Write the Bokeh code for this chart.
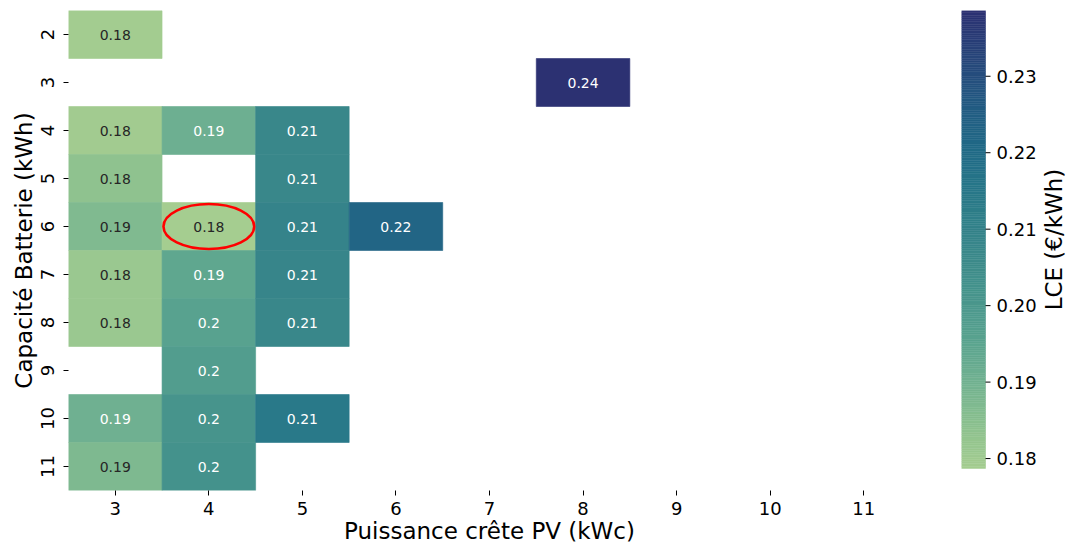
import math
import numpy as np
from bokeh.plotting import figure
from bokeh.models import ColumnDataSource, LinearColorMapper, FixedTicker, Range1d
from bokeh.layouts import row
from bokeh.embed import file_html
from bokeh.resources import INLINE
from bokeh.core.properties import value

# ---------------- data ----------------
pv_kwc = [3, 8, 3, 4, 5, 3, 5, 3, 4, 5, 6, 3, 4, 5, 3, 4, 5, 4, 3, 4, 5, 3, 4]
battery_kwh = [2, 3, 4, 4, 4, 5, 5, 6, 6, 6, 6, 7, 7, 7, 8, 8, 8, 9, 10, 10, 10, 11, 11]
lce = [0.1793, 0.2386, 0.1795, 0.1913, 0.2075, 0.1838, 0.2075, 0.1871, 0.1787, 0.2098,
       0.2225, 0.1811, 0.1943, 0.2085, 0.1812, 0.1961, 0.2075, 0.1979, 0.1907, 0.2018,
       0.2145, 0.1874, 0.2027]
x_ticks = [3, 4, 5, 6, 7, 8, 9, 10, 11]
y_ticks = [2, 3, 4, 5, 6, 7, 8, 9, 10, 11]
cbar_ticks = [0.18, 0.19, 0.20, 0.21, 0.22, 0.23]

FONT = "DejaVu Sans"

# --------------- colormap (crest-like) ---------------
anchor_t = [0.0, 0.1, 0.2, 0.27, 0.3, 0.4, 0.5, 0.6, 0.7, 0.8, 0.9, 1.0]
anchor_c = [(165, 205, 144), (138, 192, 143), (111, 176, 145), (92, 165, 143),
            (86, 160, 143), (68, 146, 140), (55, 133, 138), (41, 121, 137),
            (33, 106, 135), (35, 90, 130), (40, 70, 122), (44, 49, 114)]
N = 256
tt = np.linspace(0, 1, N)
rgb = np.array([[np.interp(t, anchor_t, [c[k] for c in anchor_c]) for k in range(3)] for t in tt])
palette = ["#%02x%02x%02x" % tuple(int(round(v)) for v in c) for c in rgb]

vmin, vmax = min(lce), max(lce)
mapper = LinearColorMapper(palette=palette, low=vmin, high=vmax)


def lum(c):
    lin = []
    for v in c:
        v = v / 255.0
        lin.append(v / 12.92 if v <= 0.03928 else ((v + 0.055) / 1.055) ** 2.4)
    return 0.2126 * lin[0] + 0.7152 * lin[1] + 0.0722 * lin[2]


text_colors = []
for v in lce:
    idx = min(int((v - vmin) / (vmax - vmin) * N), N - 1)
    text_colors.append("#262626" if lum(rgb[idx]) > 0.408 else "white")

labels = [format(v, ".2g") for v in lce]

src = ColumnDataSource(dict(x=pv_kwc, y=battery_kwh, v=lce, lab=labels, tc=text_colors))

TOP, BOTTOM = 10, 58
H = 548

# --------------- heatmap ---------------
p = figure(width=918, height=H, x_range=Range1d(2.5, 11.5), y_range=Range1d(11.5, 1.5),
           output_backend="svg", toolbar_location=None,
           min_border_left=68, min_border_top=TOP, min_border_right=8, min_border_bottom=BOTTOM)
p.outline_line_color = None
p.grid.grid_line_color = None
p.background_fill_color = "white"

p.rect(x="x", y="y", width=1, height=1, source=src,
       fill_color={"field": "v", "transform": mapper},
       line_color={"field": "v", "transform": mapper}, line_width=0.6)
p.text(x="x", y="y", text="lab", source=src, text_align="center", text_baseline="middle",
       text_font=value(FONT), text_font_size="14px", text_color="tc")

imin = lce.index(vmin)
p.ellipse(x=[pv_kwc[imin]], y=[battery_kwh[imin]], width=0.97, height=0.94,
          fill_color=None, line_color="red", line_width=2.6)

for ax in (p.xaxis[0], p.yaxis[0]):
    ax.axis_line_color = None
    ax.major_tick_line_color = "black"
    ax.major_tick_out = 5
    ax.major_tick_in = 0
    ax.minor_tick_line_color = None
    ax.major_label_text_font = FONT
    ax.major_label_text_font_size = "18px"
    ax.major_label_text_color = "black"
    ax.axis_label_text_font = FONT
    ax.axis_label_text_font_size = "23px"
    ax.axis_label_text_font_style = "normal"
    ax.axis_label_text_color = "black"

p.xaxis.major_label_standoff = 6
p.xaxis.axis_label_standoff = 0
p.yaxis.major_label_standoff = 10
p.yaxis.axis_label_standoff = 1
p.xaxis.ticker = FixedTicker(ticks=x_ticks)
p.yaxis.ticker = FixedTicker(ticks=y_ticks)
p.xaxis.axis_label = "Puissance crête PV (kWc)"
p.yaxis.axis_label = "Capacité Batterie (kWh)"
p.yaxis.major_label_orientation = "vertical"

# --------------- colorbar (bar, ticks, labels drawn in its own frame) ---------------
bar_px, frame_px = 458, H - TOP - BOTTOM
y0 = vmin - (vmax - vmin) * (frame_px - bar_px) / bar_px
CB_W = 149
CB_LEFT = 43
frame_w = CB_W - CB_LEFT
cb = figure(width=CB_W, height=H, x_range=Range1d(0, frame_w), y_range=Range1d(y0, vmax),
            output_backend="svg", toolbar_location=None,
            min_border_left=CB_LEFT, min_border_top=TOP, min_border_right=0, min_border_bottom=BOTTOM)
cb.outline_line_color = None
cb.grid.grid_line_color = None
cb.axis.visible = False

BAR_W = 24
edges = np.linspace(vmin, vmax, N + 1)
cb.quad(left=0, right=BAR_W, bottom=edges[:-1], top=edges[1:], fill_color=palette,
        line_color=palette, line_width=0.5)
cb.segment(x0=BAR_W, x1=BAR_W + 5, y0=cbar_ticks, y1=cbar_ticks, line_color="black", line_width=1)
cb.text(x=BAR_W + 11, y=cbar_ticks, text=["%.2f" % t for t in cbar_ticks],
        text_align="left", text_baseline="middle", text_font=value(FONT),
        text_font_size="18px", text_color="black")
cb.text(x=[92], y=[(vmin + vmax) / 2], text=["LCE (€/kWh)"], angle=math.pi / 2,
        text_align="center", text_baseline="middle", text_font=value(FONT),
        text_font_size="23px", text_color="black")

layout = row(p, cb)
open("out.html", "w").write(file_html(layout, INLINE))
